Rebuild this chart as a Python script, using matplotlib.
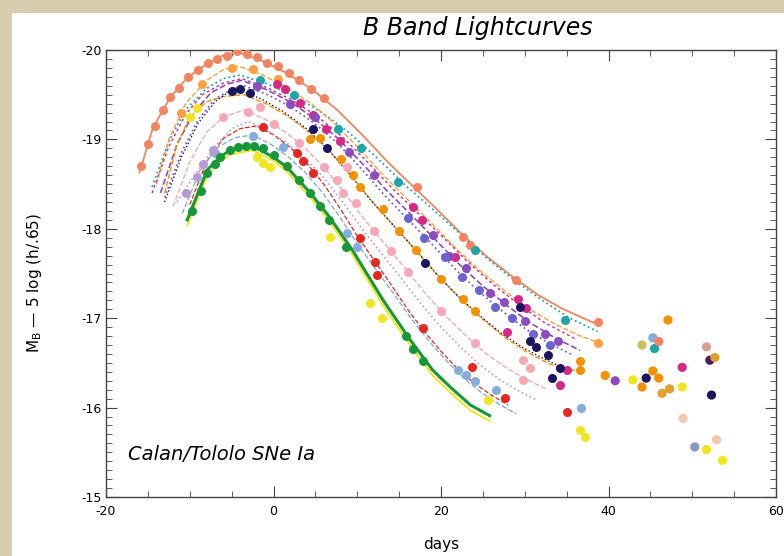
import matplotlib.pyplot as plt
from matplotlib.patches import Rectangle
from matplotlib.ticker import MultipleLocator

plt.rcParams['font.family'] = ['DejaVu Sans']
plt.rcParams['axes.unicode_minus'] = False

# fitted templates (days since B max, M_B) and observed points, one SN per block
coral_fit_days = [-16.0, -14.4, -12.4, -10.3, -7.9, -6.0, -4.4, -1.4, 1.6, 4.6, 7.6, 10.6, 13.6, 16.6, 19.6,
                  22.6, 25.6, 28.6, 31.6, 34.6, 38.7]
coral_fit_mags = [-18.63, -19.13, -19.46, -19.69, -19.85, -19.94, -19.98, -19.88, -19.74, -19.56, -19.33, -19.05,
                  -18.75, -18.48, -18.21, -17.93, -17.68, -17.46, -17.26, -17.10, -16.93]
coral_obs_days = [-15.8, -15.0, -14.2, -13.2, -12.3, -11.3, -10.2, -9.0, -7.8, -6.7, -5.5, -4.3, -3.2, -2.0, -0.8,
                  0.5, 1.8, 3.1, 4.5, 6.0, 17.1, 22.6, 23.5, 29.0, 38.7]
coral_obs_mags = [-18.70, -18.95, -19.15, -19.33, -19.47, -19.58, -19.70, -19.78, -19.86, -19.90, -19.93, -19.99,
                  -19.95, -19.92, -19.86, -19.82, -19.74, -19.66, -19.56, -19.46, -18.47, -17.91, -17.82, -17.43,
                  -16.96]

teal_fit_days = [-14.5, -12.5, -10.5, -8.0, -6.0, -4.0, -0.7, 2.6, 5.8, 9.1, 12.4, 15.7, 19.0, 22.2, 25.5, 28.8,
                 32.1, 35.4, 38.7]
teal_fit_mags = [-18.47, -18.98, -19.33, -19.57, -19.68, -19.72, -19.62, -19.48, -19.30, -19.07, -18.79, -18.49,
                 -18.22, -17.95, -17.67, -17.42, -17.20, -17.00, -16.85]
teal_obs_days = [-1.6, 2.5, 7.7, 10.5, 14.9, 24.0, 34.8]
teal_obs_mags = [-19.66, -19.50, -19.12, -18.90, -18.52, -17.76, -16.98]

amber_fit_days = [-14.0, -12.5, -10.5, -8.0, -6.0, -4.2, -1.3, 1.6, 4.5, 7.4, 10.3, 13.2, 16.1, 19.0, 21.9, 24.8,
                  27.7, 30.6, 33.5, 36.4, 38.7]
amber_fit_mags = [-18.50, -19.00, -19.40, -19.66, -19.78, -19.82, -19.72, -19.58, -19.40, -19.17, -18.89, -18.59,
                  -18.32, -18.05, -17.77, -17.52, -17.30, -17.10, -16.94, -16.81, -16.73]
amber_obs_days = [-11.0, -8.5, -5.0, -2.5, 0.5, 38.7]
amber_obs_mags = [-19.30, -19.62, -19.80, -19.79, -19.68, -16.72]

magenta_fit_days = [-14.5, -12.5, -10.5, -8.5, -6.0, -3.8, -0.8, 2.2, 5.2, 8.2, 11.2, 14.2, 17.2, 20.2, 23.2, 26.2,
                    29.2, 32.2, 36.0]
magenta_fit_mags = [-18.40, -18.92, -19.28, -19.50, -19.63, -19.68, -19.58, -19.44, -19.26, -19.03, -18.75, -18.45,
                    -18.18, -17.91, -17.63, -17.38, -17.16, -16.96, -16.77]
magenta_obs_days = [0.4, 1.4, 3.2, 4.7, 6.3, 7.9, 16.7, 17.7, 21.7, 27.9, 29.2, 30.2, 34.2, 35.1]
magenta_obs_mags = [-19.62, -19.56, -19.41, -19.27, -19.12, -18.98, -18.24, -18.10, -17.69, -16.85, -17.22, -17.11,
                    -16.25, -16.42]

purple_fit_days = [-13.5, -11.5, -9.5, -7.5, -5.5, -3.8, -0.9, 2.0, 4.8, 7.7, 10.6, 13.5, 16.4, 19.2, 22.1, 25.0,
                   27.9, 30.8, 33.6, 36.6]
purple_fit_mags = [-18.40, -18.95, -19.30, -19.52, -19.62, -19.66, -19.56, -19.42, -19.24, -19.01, -18.73, -18.43,
                   -18.16, -17.89, -17.61, -17.36, -17.14, -16.94, -16.78, -16.64]
purple_obs_days = [-2.0, 2.0, 5.0, 9.0, 12.0, 19.0, 21.0, 23.0, 25.8, 27.5, 30.0, 32.4, 34.0]
purple_obs_mags = [-19.60, -19.40, -19.25, -18.86, -18.60, -17.93, -17.70, -17.56, -17.28, -17.18, -16.97, -16.82,
                   -16.74]

violet_fit_days = [-13.0, -11.0, -9.0, -7.0, -5.0, -3.5, -0.7, 2.1, 4.9, 7.7, 10.5, 13.3, 16.1, 18.9, 21.7, 24.5,
                   27.3, 30.1, 32.9, 35.7]
violet_fit_mags = [-18.35, -18.85, -19.22, -19.45, -19.56, -19.60, -19.50, -19.36, -19.18, -18.95, -18.67, -18.37,
                   -18.10, -17.83, -17.55, -17.30, -17.08, -16.88, -16.72, -16.59]
violet_obs_days = [16.0, 18.0, 20.5, 22.5, 24.5, 26.5, 28.5, 31.0, 33.0]
violet_obs_mags = [-18.12, -17.90, -17.68, -17.46, -17.31, -17.12, -17.00, -16.82, -16.70]

orange_fit_days = [-13.0, -11.5, -10.0, -8.0, -6.0, -3.5, -0.9, 1.7, 4.3, 6.9, 9.5, 12.1, 14.7, 17.3, 19.9, 22.5,
                   25.1, 27.7, 30.3, 32.9, 36.6]
orange_fit_mags = [-18.40, -18.95, -19.25, -19.42, -19.48, -19.50, -19.40, -19.26, -19.08, -18.85, -18.57, -18.27,
                   -18.00, -17.73, -17.45, -17.20, -16.98, -16.78, -16.62, -16.49, -16.40]
orange_obs_days = [4.4, 5.5, 8.0, 9.5, 10.3, 13.1, 15.0, 17.0, 20.0, 22.6, 24.0, 36.6, 36.6]
orange_obs_mags = [-19.00, -19.02, -18.78, -18.60, -18.47, -18.22, -17.97, -17.76, -17.44, -17.22, -17.08, -16.52,
                   -16.42]

navy_fit_days = [-13.0, -11.0, -9.0, -7.0, -5.5, -4.0, -1.4, 1.2, 3.8, 6.4, 9.0, 11.6, 14.2, 16.8, 19.4, 22.0,
                 24.6, 27.2, 29.8, 32.4, 35.0]
navy_fit_mags = [-18.30, -18.80, -19.18, -19.42, -19.52, -19.55, -19.45, -19.31, -19.13, -18.90, -18.62, -18.32,
                 -18.05, -17.78, -17.50, -17.25, -17.03, -16.83, -16.67, -16.54, -16.43]
navy_obs_days = [-5.0, -4.0, -2.8, 4.7, 6.4, 18.1, 29.4, 30.6, 31.4, 32.8, 33.2, 34.2]
navy_obs_mags = [-19.54, -19.56, -19.52, -19.12, -18.90, -17.62, -17.13, -16.75, -16.68, -16.59, -16.33, -16.44]

pink_fit_days = [-12.0, -10.0, -8.0, -6.0, -3.5, -1.1, 1.3, 3.7, 6.1, 8.5, 10.9, 13.3, 15.7, 18.1, 20.5, 22.9,
                 25.3, 27.7, 30.1, 32.5]
pink_fit_mags = [-18.25, -18.75, -19.08, -19.25, -19.33, -19.23, -19.09, -18.91, -18.68, -18.40, -18.10, -17.83,
                 -17.56, -17.28, -17.03, -16.81, -16.61, -16.45, -16.32, -16.21]
pink_obs_days = [-6.0, -3.0, -1.6, 0.0, 3.0, 6.0, 7.6, 8.3, 8.8, 9.9, 12.0, 14.0, 16.0, 20.0, 24.0, 29.8, 30.6,
                 29.8]
pink_obs_mags = [-19.25, -19.31, -19.36, -19.17, -18.96, -18.69, -18.55, -18.40, -18.69, -18.29, -17.98, -17.75,
                 -17.52, -17.08, -16.72, -16.53, -16.44, -16.31]

red_fit_days = [-10, -8, -6, -4, -2, 0, 2, 4, 6, 8, 10, 12, 14, 16, 18, 20, 22, 24, 26, 28]
red_fit_mags = [-18.27, -18.75, -19.01, -19.12, -19.15, -19.05, -18.91, -18.73, -18.50, -18.22, -17.92, -17.65,
                -17.38, -17.10, -16.85, -16.63, -16.43, -16.27, -16.14, -16.03]
red_obs_days = [-1.3, 2.8, 3.5, 4.7, 10.3, 12.1, 12.3, 17.8, 23.7, 27.6, 35.1]
red_obs_mags = [-19.14, -18.85, -18.76, -18.62, -17.90, -17.63, -17.48, -16.89, -16.45, -16.11, -15.95]

sky_fit_days = [-10.9, -8.8, -6.7, -4.6, -2.5, -0.4, 1.7, 3.8, 5.9, 8.0, 10.1, 12.2, 14.3, 16.4, 18.5, 20.6, 22.7,
                24.8, 26.9, 29.0]
sky_fit_mags = [-18.17, -18.65, -18.91, -19.02, -19.05, -18.95, -18.81, -18.63, -18.40, -18.12, -17.82, -17.55,
                -17.28, -17.00, -16.75, -16.53, -16.33, -16.17, -16.04, -15.93]
sky_obs_days = [-7.0, -2.4, 1.1, 8.8, 10.0, 22.0, 23.0, 24.0, 26.6, 36.7]
sky_obs_mags = [-18.85, -19.04, -18.92, -17.95, -17.80, -16.42, -16.36, -16.30, -16.20, -16.00]

lavender_fit_days = [-11.5, -10.0, -8.5, -7.0, -5.0, -3.0, -0.7, 1.6, 3.9, 6.2, 8.5, 10.8, 13.1, 15.4, 17.7, 20.0,
                     22.3, 24.6, 26.9, 29.2, 31.5]
lavender_fit_mags = [-18.30, -18.52, -18.72, -18.92, -19.12, -19.20, -19.10, -18.96, -18.78, -18.55, -18.27, -17.97,
                     -17.70, -17.43, -17.15, -16.90, -16.68, -16.48, -16.32, -16.19, -16.08]
lavender_obs_days = [-10.5, -9.1, -8.4, -7.2]
lavender_obs_mags = [-18.40, -18.58, -18.73, -18.88]

green_fit_days = [-10.3, -7.9, -6.4, -5.2, -2.5, 0.0, 1.6, 4.4, 6.7, 9.5, 13.1, 16.3, 19.0, 21.1, 23.5, 25.8]
green_fit_mags = [-18.10, -18.66, -18.80, -18.88, -18.93, -18.80, -18.69, -18.40, -18.13, -17.75, -17.20, -16.76,
                  -16.42, -16.23, -16.03, -15.91]
green_obs_days = [-9.7, -8.6, -7.9, -7.0, -6.4, -5.2, -4.2, -3.3, -2.3, -1.3, 0.0, 1.6, 3.0, 4.4, 5.6, 6.6, 8.6,
                  15.8, 16.6, 17.8]
green_obs_mags = [-18.20, -18.42, -18.62, -18.72, -18.80, -18.88, -18.91, -18.93, -18.93, -18.90, -18.82, -18.70,
                  -18.55, -18.40, -18.26, -18.10, -17.80, -16.80, -16.66, -16.52]

yellow_fit_days = [-10.3, -7.9, -6.4, -5.2, -2.5, 0.0, 1.6, 4.4, 6.7, 9.5, 13.1, 16.3, 19.0, 21.1, 23.5, 25.8]
yellow_fit_mags = [-18.04, -18.60, -18.75, -18.83, -18.88, -18.76, -18.64, -18.35, -18.08, -17.70, -17.14, -16.70,
                   -16.36, -16.17, -15.97, -15.85]
yellow_obs_days = [-10.0, -9.1, -2.0, -1.2, -0.4, 6.7, 11.5, 13.0, 25.6, 36.6, 37.2]
yellow_obs_mags = [-19.25, -19.35, -18.80, -18.74, -18.69, -17.91, -17.17, -17.00, -16.08, -15.75, -15.67]

# late-time points past day 39
late_days = [39.6, 40.8, 42.9, 44.0, 44.0, 44.5, 45.3, 45.3, 45.5, 46.0, 46.0, 46.4, 47.1, 47.3, 48.8, 48.8, 48.9,
             50.3, 51.7, 51.7, 52.1, 52.3, 52.7, 52.9, 53.6]
late_mags = [-16.36, -16.30, -16.31, -16.70, -16.23, -16.33, -16.78, -16.41, -16.66, -16.74, -16.33, -16.16, -16.98,
             -16.21, -16.45, -16.23, -15.88, -15.56, -16.68, -15.53, -16.53, -16.14, -16.56, -15.64, -15.41]
late_sn = ['orange', 'purple', 'yellow', 'khaki', 'orange', 'navy', 'sky', 'orange', 'teal', 'coral', 'orange',
           'gold', 'orange', 'gold', 'magenta', 'yellow', 'peach', 'steel', 'rosy', 'yellow', 'indigo', 'navy',
           'gold', 'peach', 'yellow']

# colour, linestyle, linewidth
styles = {
    'coral': ('#f4845f', '-', 1.3),
    'teal': ('#1fa5a8', ':', 1.3),
    'amber': ('#ff9f40', '--', 1.0),
    'magenta': ('#d42a86', (0, (2, 2)), 1.0),
    'purple': ('#8c4bbf', '--', 1.2),
    'violet': ('#6c63d0', ':', 1.3),
    'orange': ('#f39200', '--', 1.0),
    'navy': ('#1c1660', ':', 1.0),
    'pink': ('#f6a9b4', '--', 1.0),
    'red': ('#e6261f', '--', 0.9),
    'sky': ('#85acdc', '--', 1.0),
    'lavender': ('#b79ad8', ':', 1.2),
    'green': ('#16983a', '-', 2.2),
    'yellow': ('#f0e620', '-', 1.4),
}
extra_colors = {'khaki': '#c8c060', 'gold': '#e0a030', 'peach': '#f5c6b0', 'steel': '#8898c0',
                'rosy': '#d8a090', 'indigo': '#4a2060'}

supernovae = [
    ('coral', coral_fit_days, coral_fit_mags, coral_obs_days, coral_obs_mags),
    ('teal', teal_fit_days, teal_fit_mags, teal_obs_days, teal_obs_mags),
    ('amber', amber_fit_days, amber_fit_mags, amber_obs_days, amber_obs_mags),
    ('magenta', magenta_fit_days, magenta_fit_mags, magenta_obs_days, magenta_obs_mags),
    ('purple', purple_fit_days, purple_fit_mags, purple_obs_days, purple_obs_mags),
    ('violet', violet_fit_days, violet_fit_mags, violet_obs_days, violet_obs_mags),
    ('orange', orange_fit_days, orange_fit_mags, orange_obs_days, orange_obs_mags),
    ('navy', navy_fit_days, navy_fit_mags, navy_obs_days, navy_obs_mags),
    ('pink', pink_fit_days, pink_fit_mags, pink_obs_days, pink_obs_mags),
    ('red', red_fit_days, red_fit_mags, red_obs_days, red_obs_mags),
    ('sky', sky_fit_days, sky_fit_mags, sky_obs_days, sky_obs_mags),
    ('lavender', lavender_fit_days, lavender_fit_mags, lavender_obs_days, lavender_obs_mags),
    ('yellow', yellow_fit_days, yellow_fit_mags, yellow_obs_days, yellow_obs_mags),
    ('green', green_fit_days, green_fit_mags, green_obs_days, green_obs_mags),
]

fig = plt.figure(figsize=(7.84, 5.56), dpi=100)
fig.patch.set_facecolor('#d8cdae')
fig.add_artist(Rectangle((12 / 784, 0), 1, 1 - 13 / 556, transform=fig.transFigure,
                         facecolor='white', edgecolor='none', zorder=0))

ax = fig.add_axes([106 / 784, 1 - 497 / 556, 670 / 784, 447 / 556])
ax.set_facecolor('white')

for key, fit_d, fit_m, _, _ in supernovae:
    color, ls, lw = styles[key]
    ax.plot(fit_d, fit_m, color=color, ls=ls, lw=lw, zorder=2)

for key, _, _, obs_d, obs_m in supernovae:
    color = styles[key][0]
    ax.plot(obs_d, obs_m, 'o', color=color, ms=6.5, mec='none', zorder=3)

late_colors = [styles[k][0] if k in styles else extra_colors[k] for k in late_sn]
ax.scatter(late_days, late_mags, c=late_colors, s=44, edgecolors='none', zorder=3)

ax.set_xlim(-20, 60)
ax.set_ylim(-15, -20)
ax.xaxis.set_major_locator(MultipleLocator(20))
ax.xaxis.set_minor_locator(MultipleLocator(5))
ax.yaxis.set_major_locator(MultipleLocator(1))
ax.yaxis.set_minor_locator(MultipleLocator(0.1))
ax.tick_params(which='both', direction='in', top=True, right=True, labelsize=9, color='#444444')
ax.tick_params(which='major', length=8, width=0.8)
ax.tick_params(which='minor', length=4, width=0.6)
ax.tick_params(axis='y', pad=3)
ax.tick_params(axis='x', pad=6)
for spine in ax.spines.values():
    spine.set_color('#444444')
    spine.set_linewidth(1.0)

ax.text(22 / 670, 0.094, 'Calan/Tololo SNe Ia', transform=ax.transAxes,
        fontsize=14, style='italic', ha='left', va='center')

fig.text(478 / 784, 1 - 28 / 556, 'B Band Lightcurves', fontsize=17, style='italic', ha='center', va='center')
fig.text(35 / 784, 1 - 283 / 556, r'M$_\mathregular{B}$ $—$ 5 log (h/.65)', fontsize=11, rotation=90,
         ha='center', va='center')
fig.text(441 / 784, 1 - 545 / 556, 'days', fontsize=11, ha='center', va='center')

fig.savefig('out.png', dpi=100, facecolor=fig.get_facecolor())
